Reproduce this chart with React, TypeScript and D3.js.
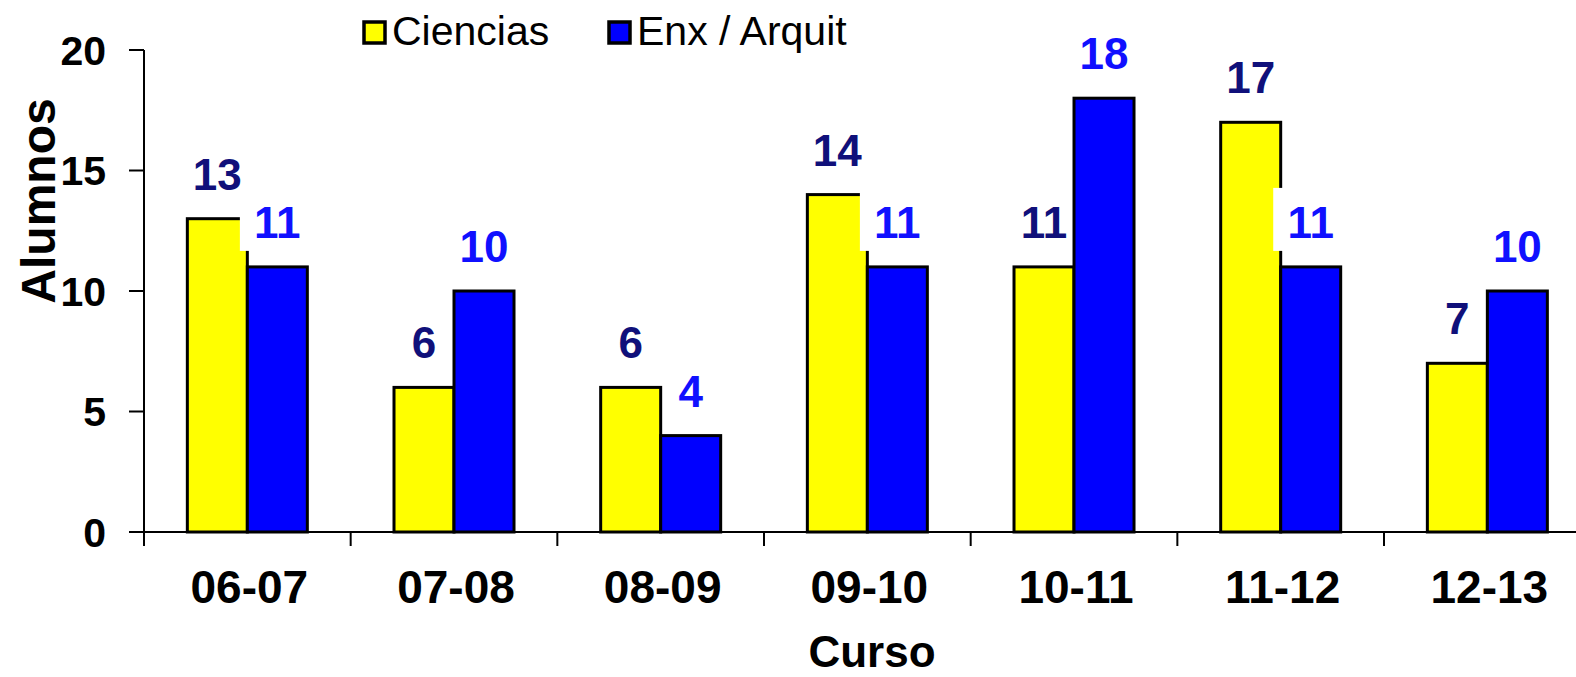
import React from "react";
import * as d3 from "d3";

const categories = ["06-07", "07-08", "08-09", "09-10", "10-11", "11-12", "12-13"];
const ciencias = [13, 6, 6, 14, 11, 17, 7];
const enx = [11, 10, 4, 11, 18, 11, 10];
const yTicks = [0, 5, 10, 15, 20];
const seriesNames = ["Ciencias", "Enx / Arquit"];

const W = 1576;
const H = 677;
const FONT = "'Liberation Sans', Arial, sans-serif";

export default function App() {
  const x0 = 144;
  const band = 206.67;
  const x = d3
    .scaleBand<string>()
    .domain(categories)
    .range([x0, x0 + band * categories.length])
    .paddingInner(0)
    .paddingOuter(0);
  const y = d3.scaleLinear().domain([0, 20]).range([532, 50]);
  const barW = 60;

  const series = [
    { name: seriesNames[0], values: ciencias, fill: "#ffff00", label: "#10107a", offset: -barW },
    { name: seriesNames[1], values: enx, fill: "#0000ff", label: "#1010ff", offset: 0 },
  ];

  const fs = 44;
  const labelFor = (s: typeof series[0], v: number, i: number, key: string) => {
    const cx = (x(categories[i]) as number) + x.bandwidth() / 2 + s.offset + barW / 2;
    const base = y(v) - 29;
    const tw = String(v).length * 0.556 * fs;
    return (
      <g key={key}>
        <rect x={cx - tw / 2 - 13} y={base - 50} width={tw + 26} height={63} fill="#ffffff" />
        <text x={cx} y={base} textAnchor="middle" fontFamily={FONT} fontWeight="bold" fontSize={fs} fill={s.label}>
          {v}
        </text>
      </g>
    );
  };

  const bars = (s: typeof series[0], si: number) =>
    s.values.map((v, i) => {
      const cx = (x(categories[i]) as number) + x.bandwidth() / 2 + s.offset;
      return (
        <rect
          key={`b${si}-${i}`}
          x={cx}
          y={y(v)}
          width={barW}
          height={y(0) - y(v)}
          fill={s.fill}
          stroke="#000"
          strokeWidth={3}
        />
      );
    });

  return (
    <svg width={W} height={H} style={{ position: "absolute", left: 0, top: 0, background: "#fff" }}>
      <rect width={W} height={H} fill="#fff" />
      {bars(series[0], 0)}
      {series[0].values.map((v, i) => labelFor(series[0], v, i, `l0-${i}`))}
      {bars(series[1], 1)}
      {series[1].values.map((v, i) => labelFor(series[1], v, i, `l1-${i}`))}

      {/* y axis */}
      <line x1={x0} x2={x0} y1={y(20)} y2={y(0)} stroke="#000" strokeWidth={2} />
      {yTicks.map((t) => (
        <g key={`yt${t}`}>
          <line x1={x0 - 15} x2={x0} y1={y(t)} y2={y(t)} stroke="#000" strokeWidth={2} />
          <text
            x={106}
            y={y(t)}
            dy="0.36em"
            textAnchor="end"
            fontFamily={FONT}
            fontWeight="bold"
            fontSize={41}
            fill="#000"
          >
            {t}
          </text>
        </g>
      ))}

      {/* x axis */}
      <line x1={x0} x2={x0 + band * categories.length} y1={y(0)} y2={y(0)} stroke="#000" strokeWidth={2} />
      {d3.range(categories.length + 1).map((i) => (
        <line key={`xt${i}`} x1={x0 + i * band} x2={x0 + i * band} y1={y(0)} y2={y(0) + 14} stroke="#000" strokeWidth={2} />
      ))}
      {categories.map((c) => (
        <text
          key={`xl${c}`}
          x={(x(c) as number) + x.bandwidth() / 2 + 2}
          y={603}
          textAnchor="middle"
          fontFamily={FONT}
          fontWeight="bold"
          fontSize={46}
          fill="#000"
        >
          {c}
        </text>
      ))}

      <text x={872} y={667} textAnchor="middle" fontFamily={FONT} fontWeight="bold" fontSize={44} fill="#000">
        Curso
      </text>
      <text
        transform="translate(55,201) rotate(-90)"
        textAnchor="middle"
        fontFamily={FONT}
        fontWeight="bold"
        fontSize={48}
        fill="#000"
      >
        Alumnos
      </text>

      {/* legend */}
      {series.map((s, i) => {
        const lx = i === 0 ? 364 : 609;
        return (
          <g key={`lg${i}`}>
            <rect x={lx} y={22} width={21} height={21} fill={s.fill} stroke="#000" strokeWidth={3.5} />
            <text x={lx + 28} y={45} fontFamily={FONT} fontSize={41} fill="#000">
              {s.name}
            </text>
          </g>
        );
      })}
    </svg>
  );
}
